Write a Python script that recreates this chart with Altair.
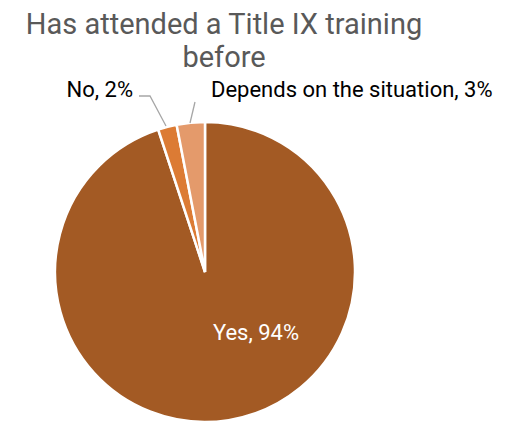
import altair as alt
import pandas as pd

categories = ["Yes", "No", "Depends on the situation"]
values = [94, 2, 3]
order = [0, 1, 2]
colors = ["#A35A24", "#DC7B34", "#E49A6B"]
title_lines = ["Has attended a Title IX training", "before"]
label_texts = ["Yes, 94%", "No, 2%", "Depends on the situation, 3%"]

W, H = 504, 413
pie_df = pd.DataFrame({"category": categories, "value": values, "order": order})

FONT = "Roboto"
CX, CY, R = 197, 264, 150

pie = alt.Chart(pie_df).mark_arc(outerRadius=R, stroke="white", strokeWidth=2.5).encode(
    theta=alt.Theta("value:Q", stack=True),
    color=alt.Color("category:N", scale=alt.Scale(domain=categories, range=colors), legend=None),
    order=alt.Order("order:Q", sort="ascending"),
    x=alt.value(CX),
    y=alt.value(CY),
)

title_df = pd.DataFrame({"t": ["\n".join(title_lines)]})
title = alt.Chart(title_df).mark_text(
    font=FONT, fontSize=29, color="#595959", align="center", baseline="alphabetic",
    lineBreak="\n", lineHeight=33,
).encode(text="t:N", x=alt.value(216), y=alt.value(26))

lab_df = pd.DataFrame({
    "text": label_texts,
    "lx": [248, 125, 203],
    "ly": [325, 82, 82],
})

def X(f):
    return alt.X(f, scale=alt.Scale(domain=[0, W], range=[0, W], nice=False, zero=False), axis=None)

def Y(f):
    return alt.Y(f, scale=alt.Scale(domain=[0, H], range=[0, H], nice=False, zero=False), axis=None)

yes_lab = alt.Chart(lab_df.iloc[[0]]).mark_text(font=FONT, fontSize=22, color="white", align="center", baseline="middle").encode(
    text="text:N", x=X("lx:Q"), y=Y("ly:Q"))
no_lab = alt.Chart(lab_df.iloc[[1]]).mark_text(font=FONT, fontSize=22, color="black", align="right", baseline="middle").encode(
    text="text:N", x=X("lx:Q"), y=Y("ly:Q"))
dep_lab = alt.Chart(lab_df.iloc[[2]]).mark_text(font=FONT, fontSize=22, color="black", align="left", baseline="middle").encode(
    text="text:N", x=X("lx:Q"), y=Y("ly:Q"))

lead_df = pd.DataFrame({
    "line": ["no", "no", "no", "dep", "dep"],
    "i": [0, 1, 2, 0, 1],
    "px": [131, 142, 158, 187, 182],
    "py": [88, 88, 118, 94, 115],
})
leaders = alt.Chart(lead_df).mark_line(color="#A6A6A6", strokeWidth=1.3).encode(
    x=X("px:Q"), y=Y("py:Q"), detail="line:N", order="i:Q")

chart = alt.layer(pie, leaders, title, yes_lab, no_lab, dep_lab).properties(
    width=W, height=H, padding=0, autosize=alt.AutoSizeParams(type="none"),
).configure_view(strokeWidth=0, stroke="transparent").configure_axis(
    domain=False, ticks=False, labels=False, grid=False
)

chart.save("out.html", embed_options={"renderer": "svg", "actions": False})
